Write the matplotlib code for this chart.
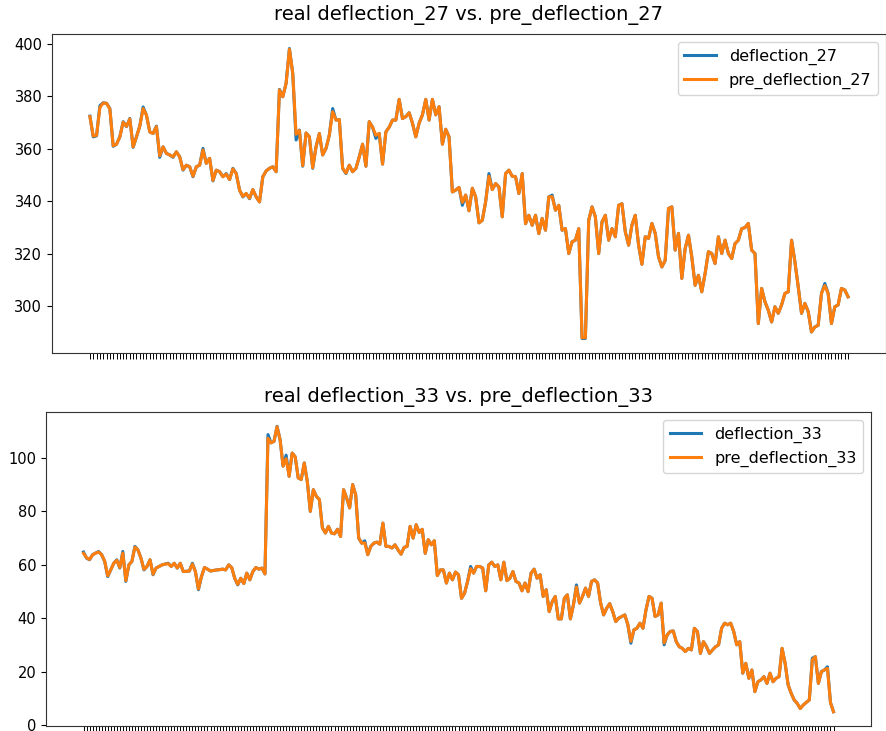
import matplotlib
matplotlib.use("Agg")
import matplotlib.pyplot as plt
import numpy as np

# ── measured series ─────────────────────────────────────────────────
deflection_27 = [
    372.5, 364.6, 365.0, 376.5, 377.6, 377.4, 375.4, 361.0, 361.8,
    364.6, 370.4, 368.5, 371.6, 360.6, 364.6, 368.7, 376.0, 372.9, 366.5,
    365.9, 368.7, 356.8, 360.8, 358.3, 357.7, 356.8, 358.9, 357.0, 351.9,
    353.8, 353.2, 349.4, 353.2, 353.8, 360.2, 354.5, 356.4, 347.8,
    351.9, 351.3, 349.4, 350.6, 348.3, 352.6, 350.6, 344.3, 341.7,
    343.0, 341.0, 344.5, 341.7, 339.8, 349.4, 351.6, 352.6, 353.2, 351.3,
    382.7, 379.9, 385.0, 398.3, 388.8, 363.4, 367.2, 353.4, 366.1, 364.6,
    352.6, 360.8, 365.9, 357.7, 360.2, 365.3, 375.4, 371.0, 371.2, 352.6,
    350.6, 353.8, 351.3, 352.6,
    357.0, 361.8, 353.4, 370.4, 368.3, 364.0, 365.9, 354.2, 366.5, 368.3,
    371.0, 371.0, 378.9, 371.6, 372.3, 373.8, 369.8, 364.6, 369.8, 373.0,
    378.9, 371.0, 378.9, 373.0, 376.1, 361.8, 367.5, 364.6, 343.6, 344.3,
    345.3, 338.5, 342.4, 336.4, 345.0, 341.7, 331.8, 332.8, 339.8, 350.6,
    344.5, 346.8, 345.5, 334.1, 350.6, 351.9, 349.6, 349.4, 343.0, 350.6,
    331.5, 334.7, 330.9, 334.7, 327.7, 333.5, 329.0, 341.7, 342.4, 336.6,
    338.5, 329.0, 329.6, 320.1, 324.6, 325.2, 329.6, 287.7, 287.7, 332.8,
    337.9, 334.1,
    320.1, 332.2, 334.7, 325.2, 329.6, 326.5, 338.5, 339.1, 328.4, 323.3,
    331.0, 334.7, 323.3, 316.0, 326.5, 325.9, 331.6, 327.8, 318.8, 315.0,
    317.5, 337.3, 337.9, 321.4, 327.8, 310.6, 322.0, 327.1, 318.8, 308.0,
    311.8, 305.5, 312.5, 320.8, 320.1, 316.3, 326.5, 320.1, 325.2, 320.1,
    318.2, 323.9, 325.2, 329.6, 330.0, 331.6, 321.4, 320.1, 293.4, 306.8,
    301.7, 298.5, 294.0, 299.8, 297.3, 300.5, 304.9, 305.5, 325.2, 317.0,
    307.5, 297.3, 301.1, 298.0, 290.2, 292.1, 292.7, 304.9, 308.7, 304.9,
    293.4, 299.8, 300.5, 306.8, 306.2, 303.6,
]

pre_deflection_27 = [
    372.3, 364.9, 365.2, 375.8, 377.5, 377.4, 375.2, 361.2, 361.8,
    364.6, 370.2, 368.6, 371.4, 360.8, 364.6, 368.7, 375.4, 372.9, 366.5,
    365.9, 368.5, 357.4, 360.8, 358.3, 357.7, 357.0, 358.9, 357.0, 352.1,
    353.8, 353.2, 349.6, 353.2, 353.8, 359.6, 354.5, 356.4, 348.0,
    351.9, 351.3, 349.4, 350.4, 348.3, 352.4, 350.6, 344.3, 341.9,
    343.0, 341.2, 344.5, 341.7, 339.8, 349.4, 351.6, 352.6, 353.2, 351.3,
    382.5, 379.9, 385.0, 398.0, 388.8, 365.6, 367.0, 353.6, 366.1, 364.6,
    352.8, 360.8, 365.9, 357.7, 360.2, 365.3, 374.2, 371.0, 371.2, 352.6,
    350.8, 353.8, 351.3, 352.6,
    357.0, 361.8, 353.4, 370.4, 368.3, 365.2, 365.9, 354.2, 366.5, 368.3,
    371.0, 371.0, 378.9, 371.6, 372.3, 373.8, 369.8, 364.6, 369.8, 373.0,
    378.9, 371.0, 378.9, 373.0, 376.1, 361.8, 367.5, 364.6, 343.6, 344.3,
    345.3, 339.6, 342.4, 336.4, 345.0, 341.7, 331.8, 332.8, 339.8, 349.6,
    344.5, 346.8, 345.5, 334.1, 350.6, 351.9, 349.6, 349.4, 343.0, 350.6,
    331.5, 334.7, 330.9, 334.7, 327.7, 333.5, 329.0, 341.7, 341.8, 336.6,
    338.5, 329.0, 329.6, 320.1, 324.6, 325.2, 329.6, 288.0, 288.0, 332.8,
    337.9, 334.1,
    320.1, 332.2, 334.7, 325.2, 329.6, 326.5, 338.5, 339.1, 328.4, 323.3,
    331.0, 334.7, 323.3, 316.0, 326.5, 325.9, 331.6, 327.8, 318.8, 315.0,
    317.5, 337.3, 337.9, 321.4, 327.8, 310.6, 322.0, 327.1, 318.8, 308.0,
    311.8, 305.5, 312.5, 320.8, 320.1, 316.3, 326.5, 320.1, 325.2, 320.1,
    318.2, 323.9, 325.2, 329.6, 330.0, 331.6, 321.4, 320.1, 293.4, 306.8,
    301.7, 298.5, 294.0, 299.8, 297.3, 300.5, 304.9, 305.5, 325.2, 317.0,
    307.5, 297.3, 301.1, 298.0, 290.2, 292.1, 292.7, 304.9, 307.9, 304.9,
    293.4, 299.8, 300.5, 306.8, 306.2, 303.6,
]

deflection_33 = [
    64.7, 62.4, 61.8, 63.7, 64.3, 64.9, 63.7, 61.2, 55.5, 58.0,
    60.5, 61.8, 58.7, 64.9, 53.7, 59.9, 61.2, 66.8, 65.5, 62.4,
    58.0, 59.3, 61.8, 56.2, 58.7, 59.3, 59.9, 60.2, 60.5, 59.3, 60.5,
    58.7, 60.5, 57.4, 57.5, 57.6, 60.5, 57.4, 50.6, 55.5, 58.9, 58.3,
    57.6, 57.8, 58.0, 58.1, 58.3, 58.0, 59.9, 58.9, 54.9, 52.4, 54.9,
    52.9, 56.8, 54.3, 57.4, 58.9, 58.3, 58.7, 56.5, 108.6, 105.5, 106.1,
    111.7, 106.7, 96.8, 100.9, 93.0, 101.7, 100.3, 92.4, 91.8, 98.0,
    91.1, 79.9, 88.0, 85.5, 84.3, 73.7, 71.8, 74.3, 71.8, 71.5, 73.2,
    70.5,
    88.0, 84.9, 81.2, 89.9, 86.1, 69.9, 68.0, 68.9, 63.7, 66.8,
    68.0, 68.4, 67.6, 75.5, 66.8, 66.8, 66.2, 67.4, 65.5, 63.9,
    66.4, 66.8, 74.3, 69.9, 74.9, 72.0, 73.2, 64.2, 69.3, 67.4,
    68.9, 55.9, 58.0, 58.0, 53.1, 56.8, 54.3, 57.2, 56.2, 47.4,
    49.3, 53.7, 59.3, 56.8, 59.3, 59.3, 58.7, 50.2, 59.9, 60.9,
    59.3, 59.9, 54.3, 60.9, 54.0, 54.9, 57.4, 53.7, 53.1, 50.2,
    53.1, 49.9, 56.8, 58.3, 54.9, 56.2, 48.1, 50.6, 42.4, 46.2,
    48.1, 39.7, 39.7, 47.4, 48.7, 39.7, 44.9, 52.4, 45.6,
    48.1, 51.2, 48.1, 53.7, 54.3, 53.1, 45.6, 41.2, 43.7, 45.4,
    42.4, 38.7, 40.0, 40.6, 41.2, 37.5, 30.6, 35.6, 36.2, 38.1,
    36.2, 43.1, 48.1, 47.4, 40.6, 41.2, 45.6, 30.0, 33.7, 35.0,
    35.2, 31.2, 29.3, 28.7, 27.5, 28.7, 28.1, 36.2, 35.0, 26.8,
    31.2, 29.3, 26.8, 28.1, 29.3, 30.0, 36.2, 38.1, 37.5, 38.1,
    35.0, 30.0, 31.2, 19.4, 23.1, 17.5, 20.6, 12.5, 16.2, 16.9,
    18.1, 15.6, 19.4, 16.2, 17.5, 18.1, 28.7, 23.1, 15.0, 11.9,
    9.4, 8.1, 6.2, 7.5, 8.5, 9.4, 25.0, 25.6, 15.6, 20.0,
    20.6, 21.8, 8.4, 5.0,
]

pre_deflection_33 = [
    64.2, 62.6, 61.9, 63.6, 64.3, 64.7, 63.7, 61.3, 55.8, 58.0,
    60.5, 61.6, 58.9, 64.3, 54.0, 59.9, 61.2, 66.5, 65.5, 62.4,
    58.2, 59.3, 61.8, 56.4, 58.7, 59.3, 59.9, 60.2, 60.3, 59.3, 60.5,
    58.7, 60.5, 57.4, 57.5, 57.6, 60.2, 57.4, 50.9, 55.5, 58.9, 58.3,
    57.6, 57.8, 58.0, 58.1, 58.3, 58.0, 59.9, 58.9, 54.9, 52.6, 54.9,
    52.9, 56.8, 54.3, 57.4, 58.9, 58.3, 58.7, 56.5, 107.2, 105.5, 106.1,
    111.5, 106.7, 96.8, 99.6, 93.0, 101.7, 100.3, 92.4, 91.8, 98.0,
    91.1, 79.9, 88.0, 85.5, 84.3, 73.7, 71.8, 74.3, 71.8, 71.5, 73.2,
    70.5,
    88.0, 84.9, 81.2, 89.9, 86.1, 69.9, 68.0, 68.1, 63.7, 66.8,
    68.0, 68.4, 67.6, 75.5, 66.8, 66.8, 66.2, 67.4, 65.5, 63.9,
    66.4, 66.8, 74.3, 69.9, 74.9, 72.0, 73.2, 64.2, 69.3, 67.4,
    68.9, 55.9, 58.0, 58.0, 53.1, 56.8, 54.3, 57.2, 56.2, 47.4,
    49.3, 53.7, 58.5, 56.8, 59.3, 59.3, 58.7, 50.2, 59.9, 60.9,
    59.3, 59.9, 54.3, 60.9, 54.0, 54.9, 57.4, 53.7, 53.1, 50.2,
    53.1, 49.9, 56.8, 58.3, 54.9, 56.2, 48.1, 50.6, 42.4, 46.2,
    48.1, 39.7, 39.7, 47.4, 48.7, 39.7, 44.9, 51.6, 45.6,
    48.1, 51.2, 48.1, 53.7, 54.3, 53.1, 45.6, 41.2, 43.7, 45.4,
    42.4, 38.7, 40.0, 40.6, 41.2, 37.5, 31.3, 35.6, 36.2, 38.1,
    36.2, 43.1, 48.1, 47.4, 40.6, 41.2, 45.6, 30.7, 33.7, 35.0,
    35.2, 31.2, 29.3, 28.7, 27.5, 28.7, 28.1, 36.2, 35.0, 26.8,
    31.2, 29.3, 26.8, 28.1, 29.3, 30.0, 36.2, 38.1, 37.5, 38.1,
    35.0, 30.0, 31.2, 19.4, 23.1, 17.5, 20.6, 12.5, 16.2, 16.9,
    18.1, 15.6, 19.4, 16.2, 17.5, 18.1, 28.7, 23.1, 15.0, 11.9,
    9.4, 8.1, 6.2, 7.5, 8.5, 9.4, 24.4, 25.6, 15.6, 20.0,
    20.6, 21.2, 8.4, 5.0,
]

# ── figure: two stacked panels ──────────────────────────────────────
W, H = 887, 731
fig = plt.figure(figsize=(W / 100, H / 100), dpi=100)
fig.patch.set_facecolor("white")


def px_axes(left, top, right, bottom):
    """Axes placed from pixel edges (origin top-left)."""
    return fig.add_axes([left / W, 1 - bottom / H,
                         (right - left) / W, (bottom - top) / H])


panels = [
    (px_axes(52, 34, 886, 353), deflection_27, pre_deflection_27, "27", 10),
    (px_axes(46, 412, 871, 726), deflection_33, pre_deflection_33, "33", 7),
]

for ax, real, pred, tag, pad in panels:
    x = np.arange(len(real))
    ax.plot(x, real, color="#1f77b4", lw=2.2, label=f"deflection_{tag}")
    ax.plot(np.arange(len(pred)), pred, color="#ff7f0e", lw=2.2,
            label=f"pre_deflection_{tag}")
    ax.set_title(f"real deflection_{tag} vs. pre_deflection_{tag}",
                 fontsize=14, pad=pad)
    ax.set_xticks(x)
    ax.set_xticklabels([])
    ax.tick_params(axis="x", length=4, width=0.7)
    ax.tick_params(axis="y", labelsize=10.5)
    for s in ax.spines.values():
        s.set_color("#333333")
    ax.legend(loc="upper right", fontsize=11.5)

fig.savefig("out.png", dpi=100, facecolor="white")
